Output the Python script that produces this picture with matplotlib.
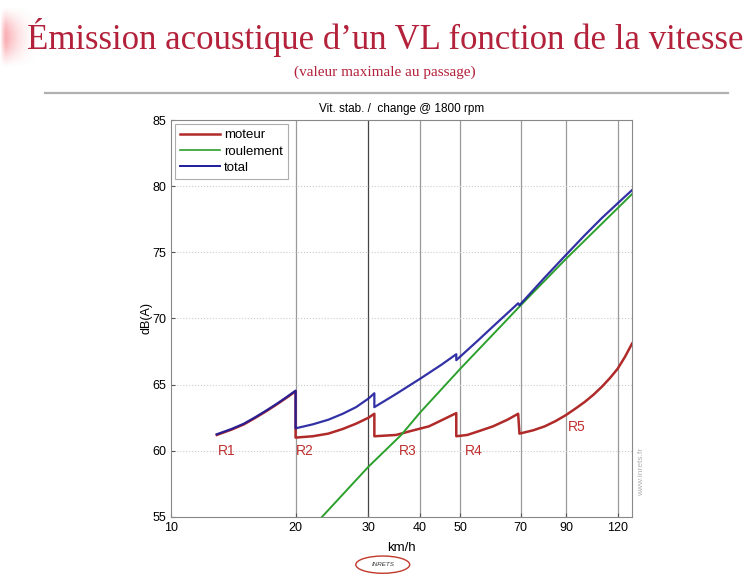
import matplotlib
matplotlib.use("Agg")
import numpy as np
import matplotlib.pyplot as plt
from matplotlib.patches import Ellipse
from matplotlib.lines import Line2D

# -----------------------------
# DATA
# -----------------------------
gear_labels = ["R1", "R2", "R3", "R4", "R5"]

# engine noise, one list per gear (km/h, dB(A))
moteur_speed = [
    [12.9, 14, 15, 16, 17, 18, 19, 20],
    [20, 22, 24, 26, 28, 30, 31],
    [31, 35, 38, 42, 45, 48.9],
    [48.9, 52, 55, 60, 65, 69],
    [69.5, 75, 80, 85, 90, 95, 100, 105, 110, 115, 120, 125, 130],
]
moteur_db = [
    [61.2, 61.6, 62.0, 62.5, 63.0, 63.5, 64.0, 64.5],
    [61.0, 61.1, 61.3, 61.65, 62.05, 62.5, 62.8],
    [61.1, 61.2, 61.5, 61.85, 62.3, 62.85],
    [61.1, 61.2, 61.45, 61.85, 62.35, 62.8],
    [61.3, 61.55, 61.85, 62.25, 62.7, 63.2, 63.7, 64.25, 64.85, 65.5, 66.2, 67.1, 68.1],
]

# rolling noise
roulement_speed = [23, 30, 36, 40, 50, 70, 90, 130]
roulement_db = [54.9, 58.8, 61.2, 62.9, 66.2, 71.0, 74.5, 79.4]

# total
total_speed = [
    [12.9, 14, 15, 16, 17, 18, 19, 20],
    [20, 22, 24, 26, 28, 30, 31],
    [31, 35, 40, 45, 48.9],
    [48.9, 55, 60, 65, 69],
    [69.5, 80, 90, 100, 110, 120, 130],
]
total_db = [
    [61.25, 61.65, 62.05, 62.55, 63.05, 63.55, 64.05, 64.55],
    [61.7, 62.0, 62.35, 62.8, 63.3, 63.95, 64.35],
    [63.3, 64.3, 65.45, 66.5, 67.3],
    [66.85, 68.3, 69.4, 70.4, 71.15],
    [71.0, 73.1, 74.8, 76.3, 77.6, 78.7, 79.7],
]

x_ticks = [10, 20, 30, 40, 50, 70, 90, 120]
y_ticks = [55, 60, 65, 70, 75, 80, 85]

# -----------------------------
# STYLE
# -----------------------------
RED = "#b02a2a"
GREEN = "#2ca02c"
BLUE = "#1c1c9c"
TITLE_RED = "#b3213a"
plt.rcParams["font.family"] = ["Liberation Sans", "DejaVu Sans"]

fig = plt.figure(figsize=(7.49, 5.75), dpi=100)

# pale red smear in the top-left corner of the slide (fades out on all sides)
corner = fig.add_axes([0.0, 0.88, 0.06, 0.11])
gx = np.linspace(0, 1, 60)
gy = np.linspace(0, 1, 40)
alpha = np.outer(np.sin(np.pi * gy) ** 1.5, (1 - gx) ** 2.5 * np.clip(gx * 8, 0, 1)) * 0.6
rgba = np.zeros((40, 60, 4))
rgba[..., 0] = 0.95
rgba[..., 1] = 0.25
rgba[..., 2] = 0.3
rgba[..., 3] = alpha
corner.imshow(rgba, aspect="auto")
corner.axis("off")

ax = fig.add_axes([0.2283, 0.1009, 0.6155, 0.6904])

# -----------------------------
# CURVES
# -----------------------------
def join_gears(speeds, values):
    xs, ys = [], []
    for s, v in zip(speeds, values):
        xs += s
        ys += v
    return xs, ys

mx, my = join_gears(moteur_speed, moteur_db)
tx, ty = join_gears(total_speed, total_db)

ax.plot(mx, my, color=RED, lw=1.8, zorder=3)
ax.plot(roulement_speed, roulement_db, color=GREEN, lw=1.4, zorder=3)
ax.plot(tx, ty, color=BLUE, lw=1.6, alpha=0.9, zorder=4)

# gear labels
label_pos = [(13.6, 60.0), (21.1, 60.0), (37.4, 60.0), (53.8, 60.0), (95.6, 61.8)]
for lab, (x, y) in zip(gear_labels, label_pos):
    ax.text(x, y, lab, color="#c03030", fontsize=10, ha="center", va="center")

# -----------------------------
# AXES
# -----------------------------
ax.set_xscale("log")
ax.set_xlim(10, 130)
ax.set_ylim(55, 85)
ax.set_xticks(x_ticks)
ax.set_xticklabels([str(t) for t in x_ticks])
ax.minorticks_off()
ax.set_yticks(y_ticks)
ax.tick_params(direction="in", labelsize=9, length=3, color="#555555")
for s in ax.spines.values():
    s.set_color("#888888")
    s.set_linewidth(0.8)

for t in x_ticks[1:]:
    ax.axvline(t, color="#444444" if t == 30 else "#9a9a9a", lw=0.9, zorder=1)
for t in y_ticks[1:-1]:
    ax.axhline(t, color="#cccccc", lw=0.8, ls=":", zorder=1)

ax.set_title("Vit. stab. /  change @ 1800 rpm", fontsize=8.5, pad=6)
ax.set_ylabel("dB(A)", fontsize=9, labelpad=0)
ax.set_xlabel("km/h", fontsize=9.5, labelpad=6)

handles = [
    Line2D([], [], color=RED, lw=1.8),
    Line2D([], [], color=GREEN, lw=1.2),
    Line2D([], [], color=BLUE, lw=1.4),
]
leg = ax.legend(handles, ["moteur", "roulement", "total"], loc="upper left",
                fontsize=9.5, frameon=True, fancybox=False, handlelength=3.0,
                borderaxespad=0.3, labelspacing=0.3, handletextpad=0.3,
                borderpad=0.4)
leg.get_frame().set_edgecolor("#999999")
leg.get_frame().set_linewidth(0.8)

# -----------------------------
# SLIDE DECORATION
# -----------------------------
fig.text(0.515, 0.935, "Émission acoustique d\u2019un VL fonction de la vitesse",
         family=["Liberation Serif"], fontsize=25, color=TITLE_RED,
         ha="center", va="center")
fig.text(0.514, 0.874, "(valeur maximale au passage)", family=["Liberation Serif"],
         fontsize=11, color=TITLE_RED, ha="center", va="center")
fig.add_artist(Line2D([0.06, 0.972], [0.838, 0.838], color="#b0b0b0", lw=1.6))

fig.text(0.856, 0.18, "www.inrets.fr", rotation=90, fontsize=6,
         color="#b0b0b0", ha="center", va="center")

fig.add_artist(Ellipse((0.511, 0.018), 0.072, 0.03, fill=False,
                       edgecolor="#c0392b", lw=1.0))
fig.text(0.511, 0.018, "INRETS", fontsize=4.5, style="italic",
         color="#333333", ha="center", va="center")

fig.savefig("out.png", dpi=100)
